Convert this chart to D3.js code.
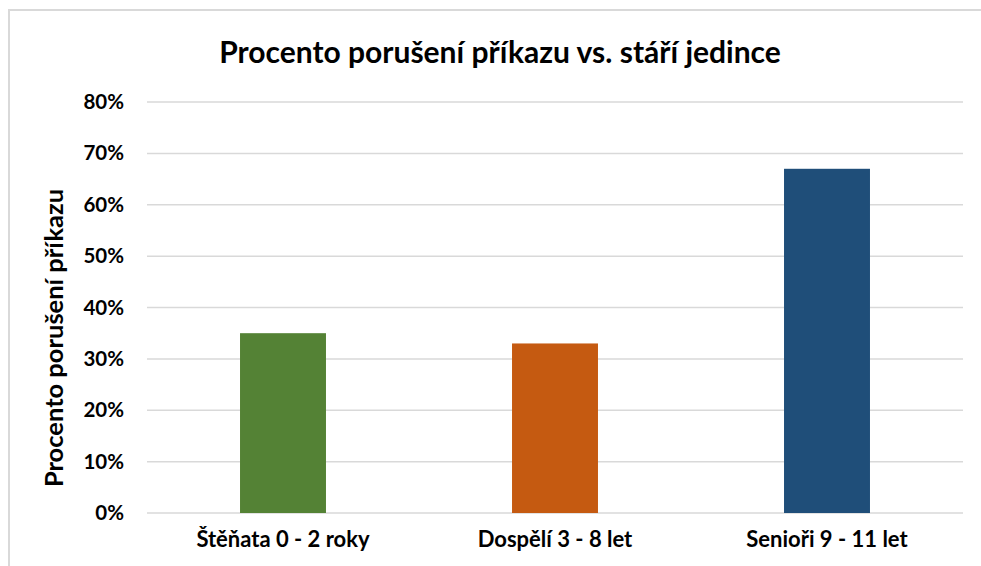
<!DOCTYPE html>
<html>
<head>
<meta charset="utf-8">
<script src="https://cdn.jsdelivr.net/npm/d3@7"></script>
<style>
body{margin:0;background:#fff;}
text{font-family:Lato,"Open Sans",sans-serif;font-weight:bold;fill:#000;}
</style>
</head>
<body>
<div id="chart"></div>
<script>
var categories = ["Štěňata 0 - 2 roky", "Dospělí 3 - 8 let", "Senioři 9 - 11 let"];
var values = [0.35, 0.33, 0.67];
var colors = ["#548235", "#c55a11", "#1f4e79"];
var yTicks = [0, 0.1, 0.2, 0.3, 0.4, 0.5, 0.6, 0.7, 0.8];

var w = 981, h = 566;
var plotLeft = 147, plotRight = 963, plotTop = 102, plotBottom = 513;

var svg = d3.select("#chart").append("svg")
  .attr("width", w).attr("height", h);

// chart border
svg.append("rect")
  .attr("x", 9).attr("y", 10)
  .attr("width", 1000).attr("height", 700)
  .attr("fill", "none")
  .attr("stroke", "#d9d9d9")
  .attr("stroke-width", 2);

var x = d3.scaleBand()
  .domain(categories)
  .range([plotLeft, plotRight])
  .paddingInner(0.684)
  .paddingOuter(0.342);

var y = d3.scaleLinear()
  .domain([0, 0.8])
  .range([plotBottom, plotTop]);

// gridlines
svg.append("g")
  .selectAll("line")
  .data(yTicks)
  .enter()
  .append("line")
  .attr("x1", plotLeft).attr("x2", plotRight)
  .attr("y1", d => y(d)).attr("y2", d => y(d))
  .attr("stroke", "#d9d9d9")
  .attr("stroke-width", 1.5);

// y axis labels
var yAxis = d3.axisLeft(y)
  .tickValues(yTicks)
  .tickFormat(d3.format(".0%"))
  .tickSize(0)
  .tickPadding(0);
var gy = svg.append("g")
  .attr("transform", "translate(124,0)")
  .call(yAxis);
gy.select(".domain").remove();
gy.selectAll("text")
  .style("font-size", "20.5px")
  .style("font-family", "Lato,sans-serif")
  .style("font-weight", "bold")
  .attr("fill", "#000");

// bars
svg.selectAll("rect.bar")
  .data(values)
  .enter()
  .append("rect")
  .attr("class", "bar")
  .attr("x", (d, i) => x(categories[i]))
  .attr("width", x.bandwidth())
  .attr("y", d => y(d))
  .attr("height", d => plotBottom - y(d))
  .attr("fill", (d, i) => colors[i]);

// x axis labels
var xAxis = d3.axisBottom(x).tickSize(0).tickPadding(0);
var gx = svg.append("g")
  .attr("transform", "translate(0,531)")
  .call(xAxis);
gx.select(".domain").remove();
gx.selectAll("text")
  .style("font-size", "22px")
  .style("font-family", "Lato,sans-serif")
  .style("font-weight", "bold")
  .attr("fill", "#000");

// title
svg.append("text")
  .attr("x", 500).attr("y", 63)
  .attr("text-anchor", "middle")
  .style("font-size", "30px")
  .text("Procento porušení příkazu vs. stáří jedince");

// y axis title
svg.append("text")
  .attr("transform", "translate(63,338) rotate(-90)")
  .attr("text-anchor", "middle")
  .style("font-size", "25.5px")
  .text("Procento porušení příkazu");
</script>
</body>
</html>
